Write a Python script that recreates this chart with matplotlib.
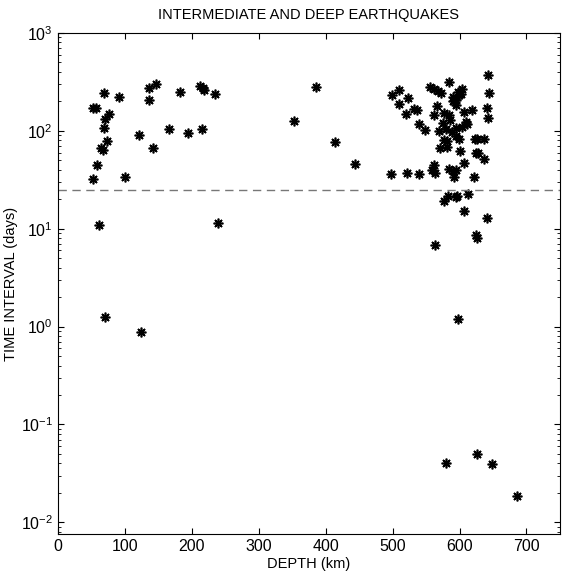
import numpy as np
import matplotlib
matplotlib.use("Agg")
import matplotlib.pyplot as plt
from matplotlib.ticker import LogLocator, NullFormatter

plt.rcParams['font.family'] = ['Liberation Sans', 'DejaVu Sans']

# depth (km) and time interval (days)
depth = [69, 92, 137, 147, 137, 183, 213, 217, 218, 235, 53, 57, 77, 70, 69,
         122, 166, 195, 216, 73, 64, 67, 142, 58, 52, 101, 62, 239, 70, 125,
         386, 353, 414, 444,
         497, 521, 540, 499, 510, 523, 510, 520, 532, 537, 539, 549, 556, 562,
         568, 572, 566, 562, 577, 584, 584, 591, 595, 599, 594, 603, 606, 609,
         611, 618, 580, 589, 594, 577, 581, 594, 599, 571, 581, 623, 624, 562,
         559, 563, 584, 591, 595, 592, 606, 621, 583, 577, 594, 596, 612, 607,
         625, 563, 642, 644, 641, 642, 637, 626, 628, 637, 641, 626, 648, 686,
         626, 580, 597, 598, 602, 590, 604, 576, 586, 600, 570]
interval = [241, 223, 271, 298, 207, 247, 287, 276, 261, 236, 170, 173, 147, 132, 106,
            91, 104, 96, 104, 78, 67, 64, 67, 45, 32, 34, 10.9, 11.5, 1.25, 0.88,
            278, 126, 77, 46,
            36, 37, 36.5, 232, 261, 218, 186, 147, 166, 164, 118, 101, 282, 267,
            255, 245, 180, 145, 151, 145, 317, 223, 207, 232, 184, 267, 157, 124,
            117, 164, 104, 98, 106, 81, 78, 88, 83, 67, 69, 83, 60, 45,
            40, 37, 41, 39, 40, 34, 47, 34, 21.5, 19.1, 21.1, 21.5, 22.6, 15.1,
            8.6, 6.8, 371, 245, 170, 134, 82, 82, 60, 52, 12.9, 8.0, 0.039, 0.0186,
            0.05, 0.04, 1.2, 250, 240, 200, 110, 120, 130, 62, 100]
threshold = 25  # days

fig = plt.figure(figsize=(5.62, 5.77), dpi=100)
ax = fig.add_axes([0.1027, 0.0745, 0.8937, 0.8683])

ax.plot(depth, interval, linestyle='none', marker=(8, 2, 0), color='black',
        markersize=7, markeredgewidth=1.2)
ax.axhline(threshold, color='#777777', linestyle=(0, (6, 4)), linewidth=1)

ax.set_yscale('log')
ax.set_xlim(0, 750)
ax.set_ylim(10 ** -2.12, 1e3)
ax.set_xticks(np.arange(0, 701, 100))
ax.yaxis.set_major_locator(LogLocator(base=10, numticks=10))
ax.yaxis.set_minor_locator(LogLocator(base=10, subs=np.arange(2, 10), numticks=10))
ax.yaxis.set_minor_formatter(NullFormatter())
ax.tick_params(which='both', direction='in', top=True, right=True, labelsize=11.5)
ax.tick_params(which='major', length=4)
ax.tick_params(which='minor', length=2)

ax.set_title('INTERMEDIATE AND DEEP EARTHQUAKES', fontsize=10.5, pad=10)
ax.set_xlabel('DEPTH (km)', fontsize=10.5, labelpad=2)
ax.set_ylabel('TIME INTERVAL (days)', fontsize=10.5, labelpad=2)

fig.savefig('out.png', dpi=100)
